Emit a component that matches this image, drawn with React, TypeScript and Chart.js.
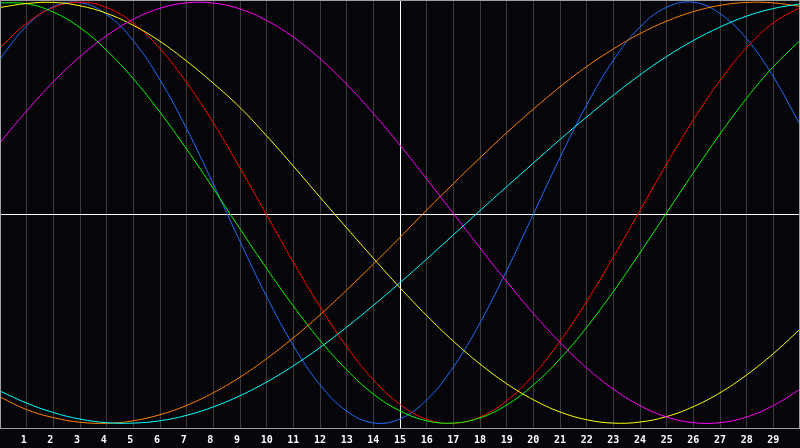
import React, { useEffect, useRef } from "react";
import { Chart, registerables } from "chart.js";

Chart.register(...registerables);

const xs = [0, 1, 2, 3, 4, 5, 6, 7, 8, 9, 10, 11, 12, 13, 14, 15, 16, 17, 18, 19, 20, 21, 22, 23, 24, 25, 26, 27, 28, 29, 30];
const tickLabels = ["1", "2", "3", "4", "5", "6", "7", "8", "9", "10", "11", "12", "13", "14", "15", "16", "17", "18", "19", "20", "21", "22", "23", "24", "25", "26", "27", "28", "29"];

const red = [0.785, 0.9, 0.975, 1.0, 0.975, 0.9, 0.779, 0.618, 0.427, 0.213, -0.011, -0.235, -0.447, -0.636, -0.793, -0.91, -0.981, -1.0, -0.97, -0.893, -0.771, -0.61, -0.421, -0.21, 0.011, 0.232, 0.441, 0.628, 0.785, 0.902, 0.975];
const green = [0.997, 0.993, 0.953, 0.879, 0.771, 0.636, 0.477, 0.302, 0.115, -0.077, -0.265, -0.443, -0.606, -0.746, -0.861, -0.941, -0.988, -0.999, -0.974, -0.913, -0.818, -0.694, -0.544, -0.374, -0.19, 0.0, 0.19, 0.374, 0.544, 0.694, 0.818];
const blue = [0.731, 0.888, 0.979, 0.998, 0.942, 0.817, 0.631, 0.399, 0.136, -0.136, -0.398, -0.631, -0.817, -0.942, -0.998, -0.979, -0.889, -0.733, -0.523, -0.275, -0.007, 0.262, 0.512, 0.724, 0.883, 0.976, 1.0, 0.946, 0.826, 0.646, 0.419];
const yellow = [0.975, 0.994, 0.999, 0.983, 0.947, 0.89, 0.814, 0.72, 0.615, 0.5, 0.365, 0.222, 0.074, -0.072, -0.216, -0.356, -0.488, -0.61, -0.718, -0.812, -0.888, -0.946, -0.983, -0.999, -0.994, -0.968, -0.921, -0.855, -0.77, -0.669, -0.553];
const magenta = [0.334, 0.484, 0.622, 0.741, 0.841, 0.919, 0.971, 0.997, 0.996, 0.968, 0.913, 0.834, 0.732, 0.61, 0.472, 0.321, 0.161, -0.003, -0.167, -0.327, -0.478, -0.616, -0.737, -0.838, -0.916, -0.97, -0.997, -0.997, -0.97, -0.916, -0.838];
const orange = [-0.875, -0.935, -0.973, -0.995, -1.0, -0.988, -0.959, -0.915, -0.855, -0.781, -0.693, -0.594, -0.485, -0.367, -0.244, -0.117, 0.013, 0.138, 0.261, 0.38, 0.492, 0.598, 0.694, 0.778, 0.851, 0.91, 0.955, 0.985, 0.999, 0.997, 0.98];
const cyan = [-0.847, -0.904, -0.949, -0.98, -0.997, -0.999, -0.988, -0.962, -0.922, -0.869, -0.804, -0.727, -0.64, -0.543, -0.44, -0.332, -0.22, -0.105, 0.01, 0.124, 0.236, 0.348, 0.455, 0.558, 0.655, 0.742, 0.818, 0.882, 0.934, 0.97, 0.992];

const seriesList = [
  { name: "magenta", values: magenta, color: "#ff00ff" },
  { name: "yellow", values: yellow, color: "#ffff00" },
  { name: "cyan", values: cyan, color: "#00ffff" },
  { name: "orange", values: orange, color: "#ff8000" },
  { name: "green", values: green, color: "#00ff00" },
  { name: "red", values: red, color: "#ff0000" },
  { name: "blue", values: blue, color: "#1e6eff" },
];

const framePlugin = {
  id: "frame",
  beforeDraw(chart: any) {
    const ctx = chart.ctx;
    ctx.save();
    ctx.fillStyle = "#060509";
    ctx.fillRect(0, 0, chart.width, chart.height);
    ctx.restore();
  },
  beforeDatasetsDraw(chart: any) {
    const ctx = chart.ctx;
    const a = chart.chartArea;
    const cy = Math.round((a.top + a.bottom) / 2) + 0.5;
    ctx.save();
    ctx.strokeStyle = "#ffffff";
    ctx.lineWidth = 1;
    ctx.beginPath();
    ctx.moveTo(a.left, cy);
    ctx.lineTo(a.right, cy);
    ctx.stroke();
    ctx.restore();
  },
  afterDatasetsDraw(chart: any) {
    const ctx = chart.ctx;
    const a = chart.chartArea;
    ctx.save();
    ctx.strokeStyle = "#a0a0a0";
    ctx.lineWidth = 1;
    ctx.strokeRect(a.left + 0.5, a.top + 0.5, a.right - a.left - 1, a.bottom - a.top);
    ctx.restore();
  },
};

export default function App() {
  const ref = useRef<HTMLCanvasElement | null>(null);
  useEffect(() => {
    document.body.style.margin = "0";
    document.body.style.background = "#060509";
    const canvas = ref.current!;
    const chart = new Chart(canvas, {
      type: "line",
      data: {
        datasets: seriesList.map((s) => ({
          label: s.name,
          data: xs.map((x, i) => ({ x, y: s.values[i] })),
          borderColor: s.color,
          borderWidth: 1,
          pointRadius: 0,
          tension: 0.4,
          fill: false,
        })),
      },
      options: {
        responsive: false,
        maintainAspectRatio: false,
        animation: false,
        devicePixelRatio: 1,
        layout: { padding: 0 },
        plugins: { legend: { display: false }, tooltip: { enabled: false } },
        scales: {
          x: {
            type: "linear",
            min: 0,
            max: 30,
            afterFit: (scale: any) => {
              scale.height = 20;
              scale.paddingLeft = 0;
              scale.paddingRight = 0;
            },
            border: { display: false },
            grid: {
              drawTicks: false,
              lineWidth: 1,
              color: (c: any) => {
                const v = c.tick ? c.tick.value : -1;
                if (v === 15) return "#ffffff";
                if (v <= 0 || v >= 30) return "rgba(0,0,0,0)";
                return "#3c3c3c";
              },
            },
            ticks: {
              stepSize: 1,
              autoSkip: false,
              maxRotation: 0,
              minRotation: 0,
              padding: 6,
              color: "#ffffff",
              font: { family: "'DejaVu Sans Mono'", size: 10, weight: "bold" },
              callback: (v: any) => {
                const lbl = tickLabels[Number(v) - 1];
                if (lbl === undefined) return "";
                return lbl.length === 1 ? lbl + " " : lbl;
              },
            },
          },
          y: {
            type: "linear",
            display: false,
            min: -1.0223,
            max: 1.0105,
          },
        },
      },
      plugins: [framePlugin],
    });
    return () => chart.destroy();
  }, []);
  return (
    <div style={{ width: 800, height: 448, background: "#060509" }}>
      <canvas ref={ref} width={800} height={448} style={{ display: "block" }} />
    </div>
  );
}
